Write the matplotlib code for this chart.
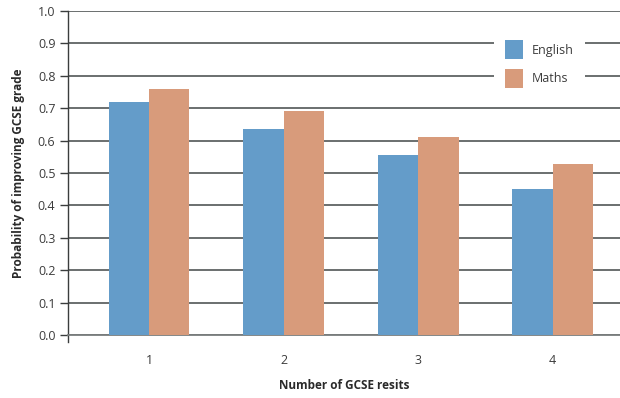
import numpy as np
import matplotlib.pyplot as plt

plt.rcParams['font.family'] = ['Open Sans', 'DejaVu Sans']

# Probabilidad de mejorar la nota según el número de repeticiones
resits = ['1', '2', '3', '4']
english = [0.72, 0.635, 0.555, 0.45]
maths = [0.76, 0.69, 0.61, 0.527]

blue = '#649cc9'
orange = '#d89b7b'
grid_col = '#5f6363'

fig = plt.figure(figsize=(6.2, 3.98), dpi=100)
ax = fig.add_axes([68 / 620, 1 - 335 / 398, 1 - 68 / 620, 324 / 398])

x = np.arange(1, len(resits) + 1)
w = 0.3
ax.bar(x - w / 2, english, w, color=blue, label='English', zorder=3)
ax.bar(x + w / 2, maths, w, color=orange, label='Maths', zorder=3)

ax.set_xlim(0.397, 4.5)
ax.set_ylim(0, 1.0)
ax.set_yticks(np.arange(0, 1.01, 0.1))
ax.set_yticklabels([f'{v:.1f}' for v in np.arange(0, 1.01, 0.1)])
ax.set_xticks(x)
ax.set_xticklabels(resits)

ax.yaxis.grid(True, color=grid_col, linewidth=1.3, zorder=1)
ax.set_axisbelow(True)

for s in ['top', 'right']:
    ax.spines[s].set_visible(False)
ax.spines['bottom'].set_color('#7a7e7e')
ax.spines['bottom'].set_linewidth(1.3)
ax.spines['left'].set_color('#3a3d3d')
ax.spines['left'].set_linewidth(1.0)
ax.spines['left'].set_bounds(-0.022, 1.0)

ax.tick_params(axis='y', length=6, width=1.0, color='#3a3d3d', labelsize=9,
               labelcolor='#3c3c3c', pad=3)
ax.tick_params(axis='x', length=0, labelsize=9, labelcolor='#3c3c3c', pad=14)

ax.set_ylabel('Probability of improving GCSE grade', fontsize=8.5,
              fontweight='bold', color='#2a2a2a', labelpad=9)
ax.set_xlabel('Number of GCSE resits', fontsize=8.5, fontweight='bold',
              color='#2a2a2a', labelpad=8)

leg = ax.legend(loc='upper left', bbox_to_anchor=(0.772, 0.945), frameon=True,
                fontsize=9, handlelength=1.4, handleheight=2.0,
                labelspacing=0.75, borderpad=0.9, handletextpad=0.7,
                borderaxespad=0, fancybox=False)
leg.get_frame().set_edgecolor('none')
leg.get_frame().set_facecolor('white')
leg.get_frame().set_alpha(1)
for t in leg.get_texts():
    t.set_color('#3c3c3c')

fig.savefig('out.png', dpi=100)
